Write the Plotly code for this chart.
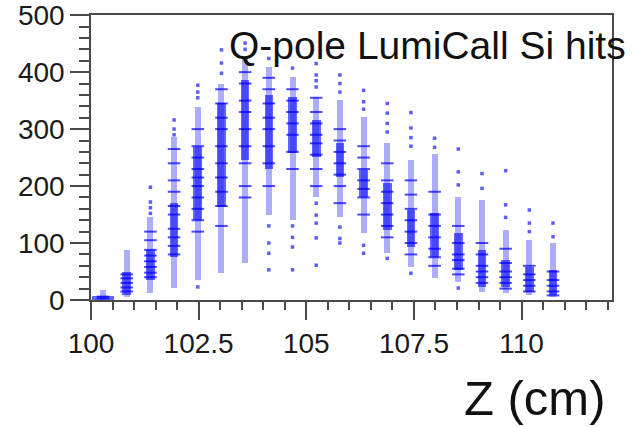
import plotly.graph_objects as go

# ---------------- data ----------------
z_layers = [100.28, 100.83, 101.38, 101.93, 102.48, 103.03, 103.58, 104.13, 104.68, 105.23,
            105.78, 106.33, 106.88, 107.43, 107.98, 108.53, 109.08, 109.63, 110.18, 110.73]

# full extent of the populated part of each layer column
band_lo = [0, 5, 12, 21, 35, 47, 65, 150, 140, 181, 146, 117, 82, 58, 38, 32, 14, 12, 9, 5]
band_hi = [18, 88, 146, 286, 339, 380, 426, 409, 392, 357, 351, 322, 275, 246, 257, 181, 175, 123, 105, 100]

# dense core of each column
core_lo = [0, 9, 35, 76, 140, 163, 246, 230, 258, 251, 216, 181, 123, 93, 76, 53, 23, 23, 14, 9]
core_hi = [7, 50, 88, 170, 268, 345, 386, 360, 356, 316, 275, 228, 205, 158, 152, 117, 88, 70, 58, 53]

# strongly populated radii (dark streaks)
dark_hits = [
    [3, 6],
    [15, 22, 30, 38, 45],
    [40, 48, 58, 68, 78, 88, 105, 120],
    [80, 95, 110, 125, 150, 165, 190, 210, 240, 265],
    [120, 140, 160, 180, 200, 215, 230, 250, 270, 300],
    [130, 165, 190, 215, 240, 270, 300, 320, 345, 370],
    [180, 200, 240, 270, 300, 330, 350, 380, 400],
    [200, 240, 270, 300, 320, 345, 370, 390],
    [230, 260, 290, 310, 330, 350, 370],
    [200, 230, 255, 275, 290, 310, 330, 355],
    [170, 200, 220, 240, 260, 280, 300],
    [150, 180, 195, 210, 230, 250, 270],
    [110, 130, 150, 170, 190, 210, 240],
    [80, 100, 120, 140, 160, 185, 210],
    [60, 75, 90, 110, 130, 150, 190],
    [45, 55, 70, 80, 100, 130],
    [30, 40, 50, 60, 80, 100],
    [20, 30, 40, 50, 65, 90],
    [15, 25, 35, 45, 60],
    [8, 15, 25, 35, 50],
]

# isolated hits outside the bands
sparse_hits = [
    [],
    [],
    [198, 172, 162, 152],
    [316, 300, 290],
    [377, 365, 355, 23],
    [439, 416, 398],
    [451, 440],
    [424, 130, 100, 82, 53],
    [407, 130, 110, 93, 53],
    [415, 395, 385, 374, 170, 149, 135, 109, 61],
    [395, 380, 365, 128, 108, 100],
    [368, 348, 335, 96, 82],
    [345, 328, 310, 295, 73],
    [329, 302, 285, 270, 47],
    [284, 268],
    [265, 225, 202, 21],
    [222, 196],
    [227, 167, 145],
    [158, 135, 120],
    [135, 111],
]

x_ticks = [100, 102.5, 105, 107.5, 110]
x_tick_text = ["100", "102.5", "105", "107.5", "110"]
y_ticks = [0, 100, 200, 300, 400, 500]

# ---------------- figure ----------------
FONT = "Liberation Sans, Arial, Helvetica, sans-serif"
BLUE = "rgba(0,0,255,0.7)"

fig = go.Figure()

band_w = 0.14
core_w = [0.5] + [0.2] * (len(z_layers) - 1)

fig.add_trace(go.Bar(
    x=z_layers, base=band_lo, y=[h - l for l, h in zip(band_lo, band_hi)],
    width=band_w, marker=dict(color="rgba(60,60,255,0.42)", line=dict(width=0)),
    hoverinfo="skip", showlegend=False))
fig.add_trace(go.Bar(
    x=z_layers, base=core_lo, y=[h - l for l, h in zip(core_lo, core_hi)],
    width=core_w, marker=dict(color="rgba(20,20,255,0.66)", line=dict(width=0)),
    hoverinfo="skip", showlegend=False))

dx, dy = [], []
for z, ys in zip(z_layers, dark_hits):
    for y in ys:
        dx.append(z)
        dy.append(y)
fig.add_trace(go.Scatter(
    x=dx, y=dy, mode="markers",
    marker=dict(symbol="line-ew", size=9, line=dict(color=BLUE, width=2)),
    hoverinfo="skip", showlegend=False))

sx, sy = [], []
for z, ys in zip(z_layers, sparse_hits):
    for y in ys:
        sx.append(z)
        sy.append(y)
fig.add_trace(go.Scatter(
    x=sx, y=sy, mode="markers",
    marker=dict(symbol="square", size=3.5, color="rgba(40,40,255,0.75)", line=dict(width=0)),
    hoverinfo="skip", showlegend=False))

axis_common = dict(
    showline=True, linecolor="#4a4a4a", linewidth=1.5, mirror=True,
    ticks="outside", tickcolor="#4a4a4a", tickwidth=1.5,
    showgrid=False, zeroline=False, ticklabeloverflow="allow", automargin=False,
    tickfont=dict(family=FONT, size=28, color="#1a1a1a"),
)

fig.update_xaxes(
    range=[100, 112.1], tickvals=x_ticks, ticktext=x_tick_text, ticklen=18,
    minor=dict(dtick=0.5, tick0=100, ticklen=8, ticks="outside", tickcolor="#4a4a4a", tickwidth=1.5),
    **axis_common)
fig.update_yaxes(
    range=[0, 500.3], tickmode="linear", tick0=0, dtick=100, ticklen=19,
    minor=dict(dtick=20, tick0=0, ticklen=10, ticks="outside", tickcolor="#4a4a4a", tickwidth=1.5),
    **axis_common)

fig.add_annotation(
    text="Q-pole LumiCall Si hits", xref="paper", yref="paper",
    x=1.0307, y=0.892, xanchor="right", yanchor="middle", showarrow=False,
    font=dict(family=FONT, size=39, color="#111111"))
fig.add_annotation(
    text="Z (cm)", xref="paper", yref="paper",
    x=0.9923, y=-0.344, xanchor="right", yanchor="middle", showarrow=False,
    font=dict(family=FONT, size=49, color="#111111"))

fig.update_layout(
    width=632, height=427, barmode="overlay", bargap=0,
    margin=dict(l=91, r=20, t=15, b=127),
    paper_bgcolor="white", plot_bgcolor="white",
)

fig.write_html("out.html")
